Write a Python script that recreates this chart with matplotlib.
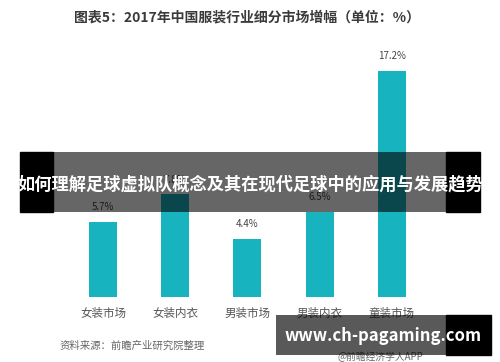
import matplotlib
matplotlib.use("Agg")
import matplotlib.pyplot as plt
from matplotlib.patches import Rectangle

plt.rcParams['font.family'] = ['Noto Sans CJK SC', 'DejaVu Sans']

categories = ["女装市场", "女装内衣", "男装市场", "男装内衣", "童装市场"]
growth = [5.7, 7.8, 4.4, 6.5, 17.2]
title = "图表5：2017年中国服装行业细分市场增幅（单位：%）"
source = "资料来源：前瞻产业研究院整理"
banner = "如何理解足球虚拟队概念及其在现代足球中的应用与发展趋势"
site = "www.ch-pagaming.com"

W, H = 500, 362
fig = plt.figure(figsize=(5.0, 3.62), dpi=100)
ax = fig.add_axes([66.9 / W, 1 - 297 / H, 361 / W, 263 / H])

bars = ax.bar(range(len(categories)), growth, width=0.39, color="#17b3bf")
for b, v in zip(bars, growth):
    ax.text(b.get_x() + b.get_width() / 2, v + 0.75, f"{v}%", ha="center",
            va="bottom", fontsize=7, color="#444444")

ax.set_xlim(-0.5, len(categories) - 0.5)
ax.set_ylim(0, 20)
ax.set_xticks(range(len(categories)))
ax.set_xticklabels(categories, fontsize=8.3, color="#555555")
ax.tick_params(axis="x", length=0, pad=7)
ax.set_yticks([])
for s in ax.spines.values():
    s.set_visible(False)

fig.text(247 / W, 1 - 17 / H, title, ha="center", va="center",
         fontsize=10, fontweight="bold", color="#3a3a3a")
fig.text(60 / W, 1 - 346 / H, source, ha="left", va="center",
         fontsize=7.5, color="#666666", style="italic")
fig.text(380 / W, 1 - 357 / H, "@前瞻经济学人APP", ha="center", va="center",
         fontsize=7, color="#666666")

def fx(x):
    return x / W

def fy(y):
    return 1 - y / H

# overlay banner
fig.add_artist(Rectangle((fx(20), fy(212)), fx(33), (212 - 152) / H,
                         transform=fig.transFigure, color="black", zorder=10))
fig.add_artist(Rectangle((fx(446), fy(212)), fx(34), (212 - 152) / H,
                         transform=fig.transFigure, color="black", zorder=10))
fig.add_artist(Rectangle((fx(53), fy(212)), fx(393), (212 - 152) / H,
                         transform=fig.transFigure, color="black", alpha=0.6,
                         zorder=10, linewidth=0))
fig.text(fx(250), fy(184), banner, ha="center", va="center", fontsize=12.4,
         fontweight="bold", color="white", zorder=11)

# bottom site box
fig.add_artist(Rectangle((fx(276), fy(355)), fx(170), (355 - 315) / H,
                         transform=fig.transFigure, color="black", alpha=0.65,
                         zorder=10, linewidth=0))
fig.add_artist(Rectangle((fx(446), fy(355)), fx(45), (355 - 315) / H,
                         transform=fig.transFigure, color="black", zorder=10))
fig.text(fx(383), fy(336), site, ha="center", va="center", fontsize=12,
         fontweight="bold", color="white", zorder=11)

fig.savefig("out.png", dpi=100)
